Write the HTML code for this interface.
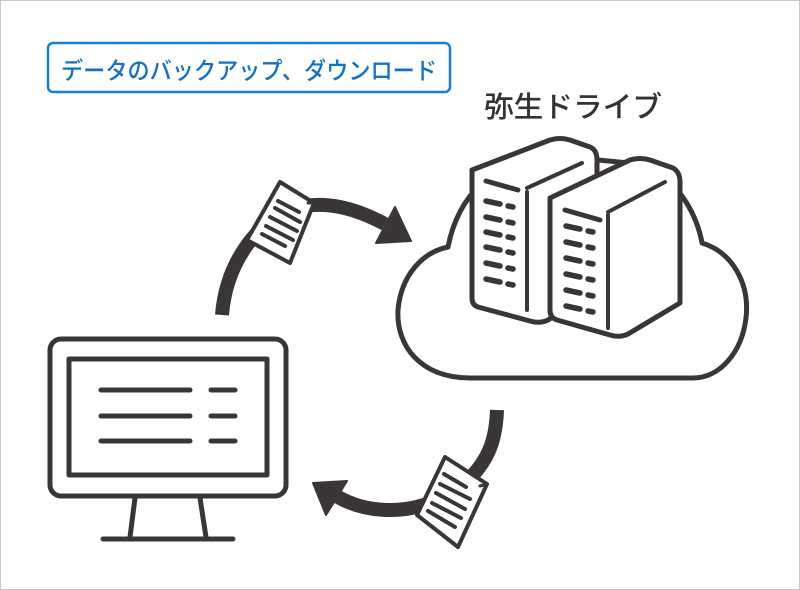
<!DOCTYPE html>
<html><head><meta charset="utf-8"><style>
html,body{margin:0;padding:0;background:#fff;}
svg{display:block;}
</style></head><body>
<svg width="800" height="590" viewBox="0 0 800 590" xmlns="http://www.w3.org/2000/svg">
<rect x="0.5" y="0.5" width="799" height="589" fill="#fff" stroke="#c8c8c8"/>
<rect x="48" y="43" width="402" height="49" rx="5" fill="#fff" stroke="#1a7fd0" stroke-width="2.5"/>
<text x="61" y="79" font-family="'Liberation Sans','Noto Sans CJK JP',sans-serif" font-size="24" font-weight="500" fill="#1273c6" textLength="376" lengthAdjust="spacingAndGlyphs">データのバックアップ、ダウンロード</text>
<text x="484" y="117" font-family="'Liberation Sans','Noto Sans CJK JP',sans-serif" font-size="29" font-weight="500" fill="#333" textLength="178" lengthAdjust="spacingAndGlyphs">弥生ドライブ</text>

<g fill="none" stroke="#3a3636" stroke-linecap="round" stroke-linejoin="round">
<!-- cloud -->
<path d="M470,378 C420,378 396,345 398,310 C401,275 423,252 448,247 C458,195 495,160 545,155 L650,165 C680,185 697,215 702,243 C732,252 750,283 746,318 C742,352 720,378 693,378 Z" stroke-width="5" fill="#fff"/>
<!-- server 1 -->
<path d="M472,170 L550,140 Q560,137 570,140 L590,147 Q597,150 597,160 L597,288 L548,320 Q540,324 530,321 L478,307 Q472,305 472,298 Z" stroke-width="5" fill="#fff"/>
<path d="M486,181 L518,190" stroke-width="5"/>
<path d="M527,188 L582,163" stroke-width="4"/>
<path d="M527,192 L527,310" stroke-width="4"/>
<!-- server 2 -->
<path d="M550,198 L630,160 Q640,157 650,160 L673,168 Q680,172 680,182 L680,303 L628,334 Q620,338 610,335 L557,320 Q550,318 550,310 Z" stroke-width="5" fill="#fff"/>
<path d="M565,210 L600,220" stroke-width="5"/>
<path d="M608,212 L665,182" stroke-width="4"/>
<path d="M608,215 L608,328" stroke-width="4"/>
<g stroke-width="5.5">
<path d="M486,201 L500,204 M508,206 L513,207"/>
<path d="M486,217 L500,220 M508,222 L513,223"/>
<path d="M486,232 L500,235 M508,237 L513,238"/>
<path d="M486,247 L500,250 M508,252 L513,253"/>
<path d="M486,263 L500,266 M508,268 L513,269"/>
<path d="M486,279 L500,282 M508,284 L513,285"/>
<path d="M566,226 L580,229 M588,231 L593,232"/>
<path d="M566,242 L580,245 M588,247 L593,248"/>
<path d="M566,258 L580,261 M588,263 L593,264"/>
<path d="M566,274 L580,277 M588,279 L593,280"/>
<path d="M566,290 L580,293 M588,295 L593,296"/>
<path d="M566,306 L580,309 M588,311 L593,312"/>
</g>
<!-- monitor -->
<rect x="50" y="339" width="236" height="157" rx="11" stroke-width="5" fill="#fff"/>
<rect x="69" y="359" width="198" height="116" stroke-width="5"/>
<g stroke-width="5">
<path d="M101,390 L190,390 M211,390 L235,390"/>
<path d="M101,416 L190,416 M211,416 L235,416"/>
<path d="M101,441 L190,441 M211,441 L235,441"/>
<path d="M135,498 L130,537 M200,498 L206,537"/>
<path d="M103,539 L233,539"/>
</g>
</g>
<!-- top arrow -->
<path d="M222,315 C226,265 255,222 295,208 C325,200 355,208 385,224" fill="none" stroke="#3a3636" stroke-width="14"/>
<polygon points="395,207 411,241 376,243" fill="#3a3636" stroke="#3a3636" stroke-width="2" stroke-linejoin="round"/>
<g stroke="#3a3636" stroke-linejoin="round" stroke-linecap="round">
<polygon points="280,182 314,203 290,263 247,240" fill="#fff" stroke-width="4"/>
<path d="M308,203 L314,203 L312,210" fill="none" stroke-width="3"/>
<g stroke-width="4"><path d="M278,201 L299,212 M275,208 L300,222 M270,217 L297,231 M266,226 L293,240 M262,234 L285,246"/></g>
</g>
<!-- bottom arrow -->
<path d="M497,410 C496,440 488,460 470,478 C450,498 420,510 390,510 C370,510 352,505 338,497" fill="none" stroke="#3a3636" stroke-width="14"/>
<polygon points="313,483 347,481 326,515" fill="#3a3636" stroke="#3a3636" stroke-width="2" stroke-linejoin="round"/>
<g stroke="#3a3636" stroke-linejoin="round" stroke-linecap="round">
<polygon points="445,457 487,484 458,547 417,515" fill="#fff" stroke-width="4"/>
<path d="M480,479 L487,484 L480,486" fill="none" stroke-width="3"/>
<g stroke-width="4"><path d="M444,474 L466,487 M440,484 L470,499 M436,493 L465,509 M432,503 L461,518 M428,511 L455,527"/></g>
</g>
</svg>
</body></html>
